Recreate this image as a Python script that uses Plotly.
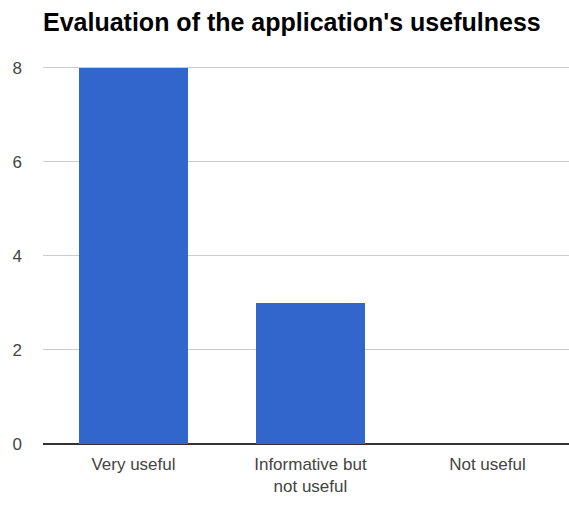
import plotly.graph_objects as go

categories = ["Very useful", "Informative but<br>not useful", "Not useful"]
values = [8, 3, 0]
y_ticks = [0, 2, 4, 6, 8]

fig = go.Figure(go.Bar(
    x=[0, 1, 2], y=values, width=0.616,
    marker=dict(color="#3366CC", line=dict(width=0)),
))

fig.update_layout(
    width=569, height=505,
    margin=dict(l=43, r=0, t=63, b=61),
    paper_bgcolor="white", plot_bgcolor="white",
    title=dict(text="<b>Evaluation of the application's usefulness</b>",
               x=0, xanchor="left", xref="paper", y=0.956, yanchor="middle",
               font=dict(family="Liberation Sans, Arial", size=25, color="#000000")),
    font=dict(family="Liberation Sans, Arial", size=17, color="#444444"),
    showlegend=False,
    bargap=0,
)
fig.update_xaxes(
    tickmode="array", tickvals=[0, 1, 2], ticktext=categories,
    range=[-0.511, 2.461], showgrid=False, zeroline=False,
    showline=False, ticks="", ticklabelstandoff=8,
    tickfont=dict(size=17, color="#444444"),
)
fig.update_yaxes(
    range=[0, 8.1], tickvals=y_ticks, showgrid=True, gridcolor="#cccccc",
    zeroline=True, zerolinecolor="#333333", zerolinewidth=1.5,
    ticks="", ticklabelstandoff=20, tickfont=dict(size=17, color="#444444"),
)

fig.write_html("out.html")
